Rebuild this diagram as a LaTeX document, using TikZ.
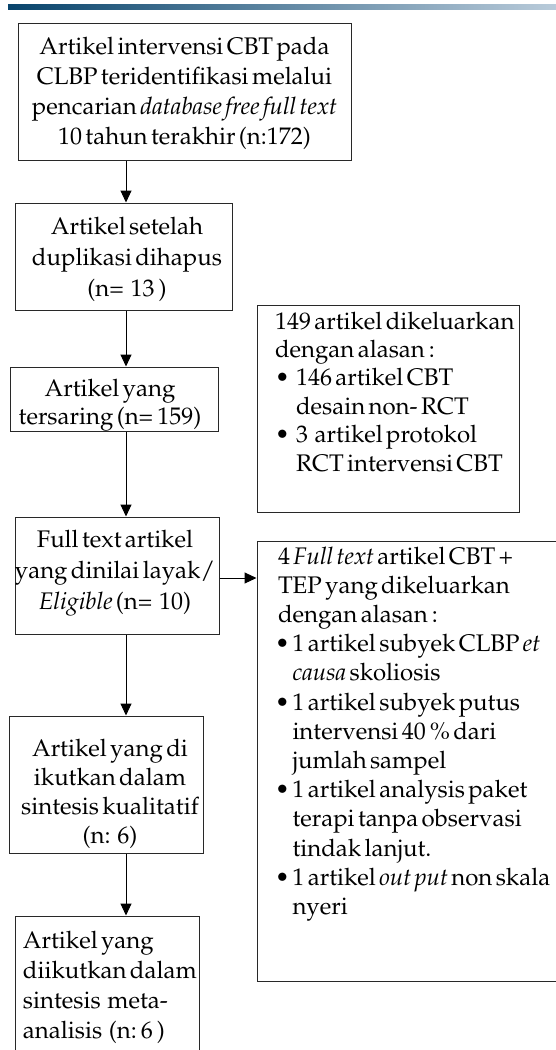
\documentclass[tikz,border=0pt]{standalone}
\usepackage[T1]{fontenc}
\usepackage{mathpazo}
\usetikzlibrary{arrows.meta}
\definecolor{barL}{RGB}{8,68,108}
\definecolor{barR}{RGB}{185,203,218}
\definecolor{edge}{RGB}{40,40,40}
\newcommand\txtfont[1]{\fontsize{24}{#1}\selectfont\spaceskip=0.14em\relax}
\newcommand\bulA{\makebox[21pt][l]{\hspace{0pt}\textbullet}}
\newcommand\indA{\hspace*{21pt}}
\newcommand\bulB{\makebox[14.5pt][l]{\hspace{-3pt}\textbullet}}
\newcommand\indB{\hspace*{14.5pt}}
\newcommand\fl{\rule{0pt}{18pt}}
\tikzset{
  x=1pt, y=1pt,
  box/.style={draw=edge, line width=1pt, inner sep=0pt, fill=none},
  txt/.style={inner sep=0pt, outer sep=0pt, font=\txtfont{#1}},
  arr/.style={draw=black, line width=1pt, -{Triangle[width=11pt,length=12pt]}}
}
\begin{document}
\begin{tikzpicture}
\useasboundingbox (0,0) rectangle (556,-1050);
\clip (0,0) rectangle (556,-1050);
\shade[left color=barL, right color=barR] (8,-4) rectangle (556,-9);
\coordinate (ax) at (126,0);

% boxes
\node[box, minimum width=333pt, minimum height=137pt] (b1) at (184.5,-91.5) {};
\node[box, minimum width=217pt, minimum height=107pt] (b2) at (123.5,-256.5) {};
\node[box, minimum width=208pt, minimum height=64pt] (b3) at (114,-399) {};
\node[box, minimum width=262pt, minimum height=207pt] (r1) at (388,-408.5) {};
\node[box, minimum width=204pt, minimum height=117pt] (b4) at (117,-575.5) {};
\node[box, minimum width=303pt, minimum height=440pt] (r2) at (408.5,-761) {};
\node[box, minimum width=194pt, minimum height=137pt] (b5) at (106,-784.5) {};
\node[box, minimum width=184pt, minimum height=154pt] (b6) at (107,-993) {};

% texts
\node[txt=30, anchor=north, align=center] (t1) at (184.5,-36)
  {\fl Artikel intervensi CBT pada\\ CLBP teridentifikasi melalui\\ pencarian \textit{database free full text}\\ 10 tahun terakhir (n:172)};
\node[txt=31, anchor=north, align=center] (t2) at (127,-216)
  {\fl Artikel setelah\\ duplikasi dihapus\\ (n=\ \ 13\,)};
\node[txt=28, anchor=north, align=center] (t3) at (110,-378)
  {\fl Artikel yang\\ tersaring (n=\,159)};
\node[txt=31, anchor=north, align=center] (t4) at (115,-529)
  {\fl Full text artikel\\ yang dinilai layak/\\ \textit{Eligible} (n=\ \ 10)};
\node[txt=29.3, anchor=north, align=center] (t5) at (110,-738)
  {\fl Artikel yang di\\ ikutkan dalam\\ sintesis kualitatif\\ (n:\ \ 6)};
\node[txt=30.3, anchor=north west, align=left] (t6) at (23,-930)
  {\fl Artikel yang\\ diikutkan dalam\\ sintesis\ \ meta-\\ analisis\ \ (n:\,6\,)};
\node[txt=28.4, anchor=north west, align=left] (tr1) at (275,-311)
  {\fl 149 artikel dikeluarkan\\ dengan alasan\,:\\ \bulA 146 artikel CBT\\ \indA desain non- RCT\\ \bulA 3\ \ artikel protokol\\ \indA RCT intervensi CBT};
\node[txt=29.2, anchor=north west, align=left] (tr2) at (278,-546)
  {\fl 4 \textit{Full text} artikel CBT +\\ TEP yang dikeluarkan\\ dengan alasan\,:\\
   \bulB 1 artikel subyek CLBP \textit{et}\\ \indB\textit{causa} skoliosis\\
   \bulB 1 artikel subyek putus\\ \indB intervensi 40\,\% dari\\ \indB jumlah sampel\\
   \bulB 1 artikel analysis paket\\ \indB terapi tanpa observasi\\ \indB tindak lanjut.\\
   \bulB 1 artikel \textit{out put} non skala\\ \indB nyeri};

% connectors
\draw[arr] (b1.south -| ax) -- (b2.north -| ax);
\draw[arr] (b2.south -| ax) -- (b3.north -| ax);
\draw[arr] (b3.south -| ax) -- (b4.north -| ax);
\draw[arr] (b4.south -| ax) -- (b5.north -| ax);
\draw[arr] (b5.south -| ax) -- (b6.north -| ax);
\draw[arr] ([yshift=-2.5pt]b4.east) -- ([yshift=-2.5pt]b4.east -| r2.west);
\end{tikzpicture}
\end{document}
